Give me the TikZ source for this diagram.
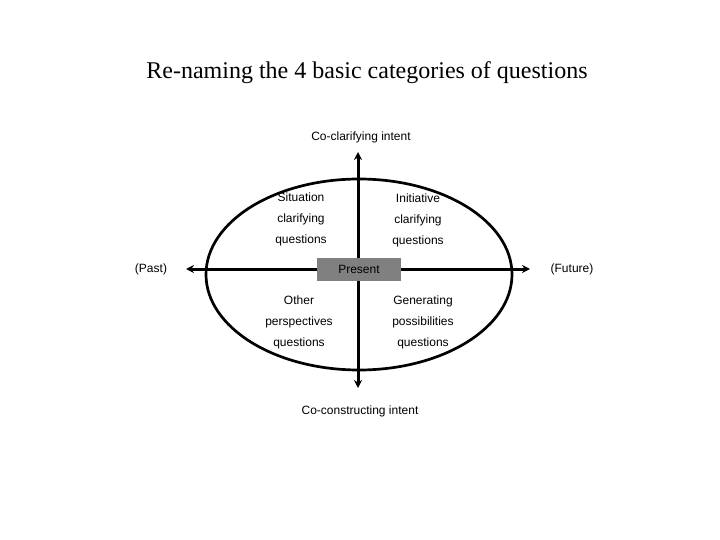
\documentclass[tikz,border=0pt]{standalone}
\usepackage{fontspec}
\setmainfont{Liberation Serif}
\setsansfont{Liberation Sans}
\usetikzlibrary{arrows.meta}

\begin{document}
\begin{tikzpicture}[x=1pt,y=-1pt,>={Stealth[length=8pt,width=8pt]},
lbl/.style={font=\sffamily\fontsize{12}{21}\selectfont,align=center}]
\useasboundingbox (0,0) rectangle (720,540);
\node (title) at (367,73) {\fontsize{24}{28}\selectfont Re-naming the 4 basic categories of questions};
\coordinate (top) at (358,152);
\coordinate (bot) at (358,388);
\coordinate (past) at (186,269);
\coordinate (fut) at (530,269);
\draw[line width=2.7pt] (359,274.5) ellipse [x radius=153, y radius=95.5];
\draw[<->,line width=3pt](past)--(fut);
\draw[<->,line width=3pt](top)--(bot);
\node[fill=gray,minimum width=84pt,minimum height=23pt,inner sep=0pt,lbl] (pres) at (359,269.5) {Present};
\node[lbl] (up) at (361,137) {Co-clarifying intent};
\node[lbl] (down) at (360,411) {Co-constructing intent};
\node[lbl] (pastlbl) at (151,269) {(Past)};
\node[lbl] (futlbl) at (572,269) {(Future)};
\node[lbl] (sit) at (301,219) {Situation\\clarifying\\questions};
\node[lbl] (ini) at (418,220) {Initiative\\clarifying\\questions};
\node[lbl] (oth) at (299,322) {Other\\perspectives\\questions};
\node[lbl] (gen) at (423,322) {Generating\\possibilities\\questions};
\end{tikzpicture}
\end{document}
